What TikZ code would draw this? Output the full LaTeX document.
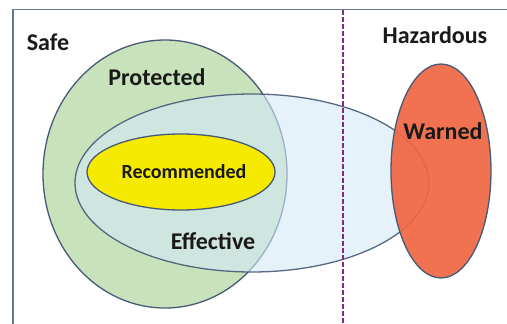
\documentclass[tikz,border=0pt]{standalone}
\usepackage{fontspec}
\setmainfont{Carlito}
\begin{document}
\begin{tikzpicture}[x=1pt,y=-1pt,
  setline/.style={draw=outline, line width=1.3pt},
  biglabel/.style={font=\bfseries\fontsize{24}{26}\selectfont, text=black!90, inner sep=0pt},
  smalllabel/.style={font=\bfseries\fontsize{20}{22}\selectfont, text=black!90, inner sep=0pt}]
\definecolor{outline}{RGB}{70,90,120}
\definecolor{frameblue}{RGB}{100,120,150}
\definecolor{protgreen}{RGB}{200,226,188}
\definecolor{effblue}{RGB}{212,234,248}
\definecolor{recyellow}{RGB}{245,234,0}
\definecolor{warnred}{RGB}{240,102,66}
\definecolor{divider}{RGB}{130,40,140}
\useasboundingbox (0,0) rectangle (507,324);
\fill[white] (0,0) rectangle (507,324);

% frame: top rule and left rule
\coordinate (tl) at (13,9.5);
\coordinate (tr) at (507,9.5);
\coordinate (bl) at (13,324);
\draw[frameblue, line width=1.8pt] (bl) -- (tl) -- (tr);

% the sets
\path[setline, fill=protgreen] (165,174) ellipse [x radius=122, y radius=134];
\path[setline, draw opacity=0.9, fill=effblue, fill opacity=0.6] (252,183) ellipse [x radius=177, y radius=89];
\path[setline, fill=recyellow] (181,172) ellipse [x radius=94, y radius=38];
\path[setline, fill=warnred, fill opacity=0.92] (441,171) ellipse [x radius=50, y radius=107];

% boundary between safe and hazardous
\coordinate (dtop) at (343,9.5);
\coordinate (dbot) at (343,324);
\draw[divider, line width=1.4pt, dash pattern=on 5pt off 2pt] (dtop) -- (dbot);

% labels
\node[biglabel] (safe) at (48,42) {Safe};
\node[biglabel] (haz) at (435,35) {Hazardous};
\node[biglabel] (prot) at (157,77) {Protected};
\node[biglabel] (warn) at (443,131) {Warned};
\node[biglabel] (eff) at (213,241) {Effective};
\node[smalllabel] (rec) at (184,172) {Recommended};
\end{tikzpicture}
\end{document}
